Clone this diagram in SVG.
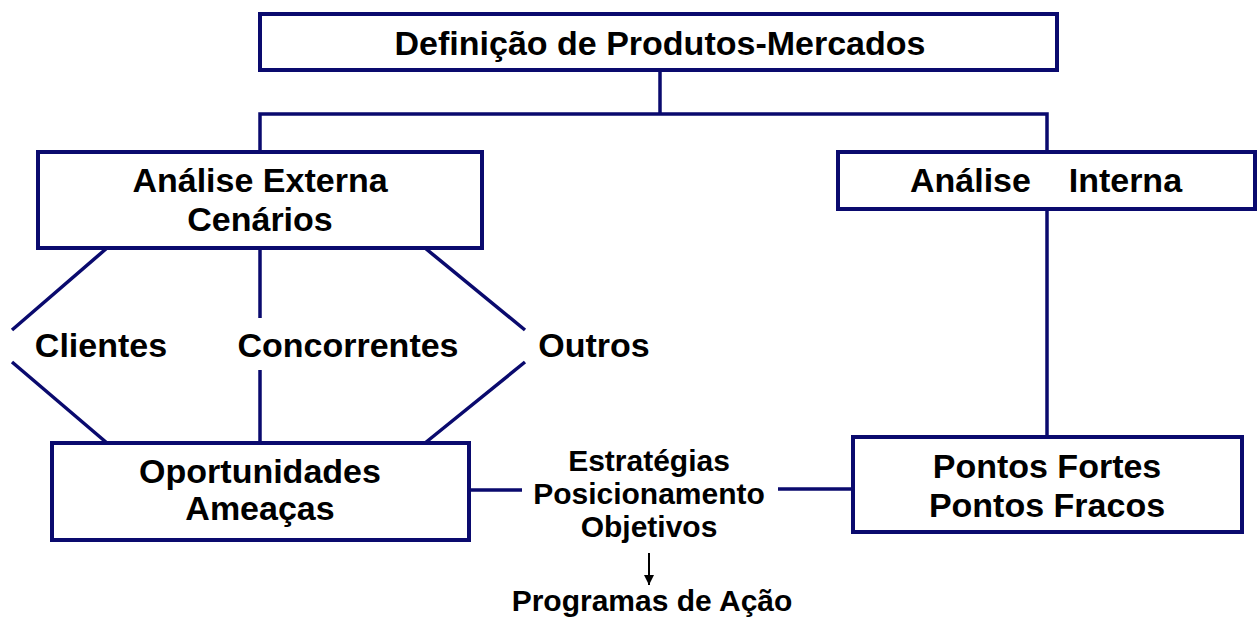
<svg xmlns="http://www.w3.org/2000/svg" width="1260" height="617" viewBox="0 0 1260 617">
<style>
.box{fill:#fff;stroke:#0a0a6e;stroke-width:4}
.ln{stroke:#0a0a6e;stroke-width:3.5;fill:none}
text{font-family:"Liberation Sans",Arial,sans-serif;font-weight:bold;fill:#000;text-anchor:middle}
.t{font-size:34px}
.m{font-size:30px}
</style>
<defs>
<marker id="ah" viewBox="0 0 10 10" refX="10" refY="5" markerWidth="12" markerHeight="10" markerUnits="userSpaceOnUse" orient="auto">
<path d="M0,0 L10,5 L0,10 Z" fill="#000"/>
</marker>
</defs>
<g id="connectors">
<path class="ln" d="M660,70 V114 M260,152 V114 H1047 V152"/>
<path class="ln" d="M107,248 L12,330 M260,248 V318 M425,248 L525,330"/>
<path class="ln" d="M12,362 L107,443 M260,370 V443 M525,362 L425,443"/>
<path class="ln" d="M1047,209 V437"/>
<path class="ln" d="M469,490 H522 M778,489 H853"/>
<line x1="649" y1="553" x2="649" y2="585" stroke="#000" stroke-width="2" marker-end="url(#ah)"/>
</g>
<g id="definicao">
<rect class="box" x="260" y="14" width="797" height="56"/>
<text class="t" x="660" y="55">Definição de Produtos-Mercados</text>
</g>
<g id="analise-externa">
<rect class="box" x="38" y="152" width="444" height="96"/>
<text class="t" x="260" y="192">Análise Externa</text>
<text class="t" x="260" y="231">Cenários</text>
</g>
<g id="analise-interna">
<rect class="box" x="838" y="152" width="417" height="57"/>
<text class="t" x="1046" y="192" xml:space="preserve">Análise    Interna</text>
</g>
<g id="clientes"><text class="t" x="101" y="357">Clientes</text></g>
<g id="concorrentes"><text class="t" x="348" y="357">Concorrentes</text></g>
<g id="outros"><text class="t" x="594" y="357">Outros</text></g>
<g id="oportunidades">
<rect class="box" x="52" y="443" width="417" height="97"/>
<text class="t" x="260" y="483">Oportunidades</text>
<text class="t" x="260" y="520">Ameaças</text>
</g>
<g id="estrategias">
<text class="m" x="649" y="471">Estratégias</text>
<text class="m" x="649" y="504">Posicionamento</text>
<text class="m" x="649" y="537">Objetivos</text>
</g>
<g id="programas"><text class="m" x="652" y="611">Programas de Ação</text></g>
<g id="pontos">
<rect class="box" x="853" y="437" width="389" height="95"/>
<text class="t" x="1047" y="478">Pontos Fortes</text>
<text class="t" x="1047" y="517">Pontos Fracos</text>
</g>
</svg>
